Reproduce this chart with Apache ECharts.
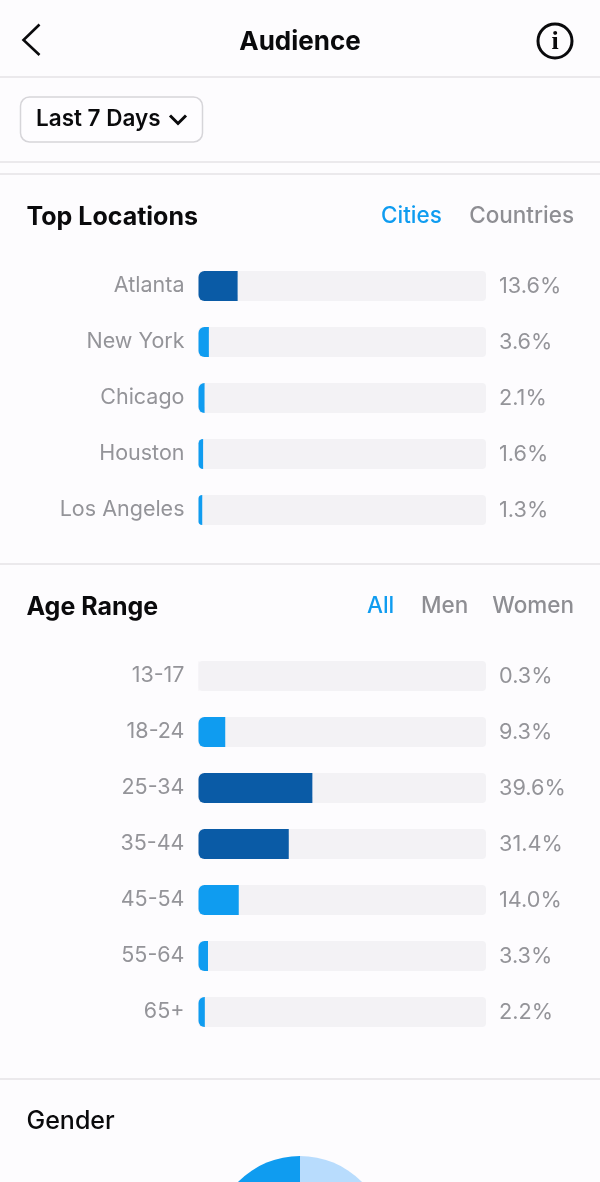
<!DOCTYPE html>
<html><head><meta charset="utf-8">
<script src="https://cdn.jsdelivr.net/npm/echarts@6/dist/echarts.min.js"></script>
<style>html,body{margin:0;padding:0;background:#fdfcfe}#c{width:600px;height:1182px}</style>
</head><body><div id="c"></div>
<script>
const cities = ['Atlanta','New York','Chicago','Houston','Los Angeles'];
const cityShare = [13.6,3.6,2.1,1.6,1.3];
const cityDark = [true,false,false,false,false];
const ages = ['13-17','18-24','25-34','35-44','45-54','55-64','65+'];
const ageShare = [0.3,9.3,39.6,31.4,14.0,3.3,2.2];
const ageDark = [false,false,true,true,false,false,false];
const genders = ['Men','Women'];
const genderShare = [50,50];

const DARK='#0a5ba6', LIGHT='#0f9cf0', TRACK='#f3f2f5', GRAY='#8e8e93', LBL='#949499', BLUE='#0f9cf0', INK='#0a0a0c', FF='Inter, sans-serif';
const pct = v => v.toFixed(1)+'%';
const barRows = (vals,dark) => vals.map((v,i)=>({value:v,itemStyle:{color:v<1?TRACK:(dark[i]?DARK:LIGHT)}}));
const yLeft = (g,data)=>({type:'category',gridIndex:g,data,inverse:true,axisLine:{show:false},axisTick:{show:false},
  axisLabel:{margin:14,fontSize:21.5,fontFamily:FF,color:LBL,interval:0,padding:[2,0,0,0]}});
const yRight = (g,vals)=>({type:'category',gridIndex:g,position:'right',data:vals.map(pct),inverse:true,axisLine:{show:false},axisTick:{show:false},
  axisLabel:{margin:13,fontSize:21.7,fontFamily:FF,color:LBL,interval:0,padding:[2,0,0,0]}});
const xAx = g=>({type:'value',gridIndex:g,min:0,max:100,show:false});
const bar = (g,vals,dark)=>({type:'bar',xAxisIndex:g,yAxisIndex:g*2,data:barRows(vals,dark),barWidth:30,silent:true,
  showBackground:true,backgroundStyle:{color:TRACK,borderRadius:4},itemStyle:{borderRadius:[6,0,0,6]}});
const txt=(x,y,t,size,color,weight,align,ff)=>({type:'text',x,y,silent:true,style:{text:t,fontSize:size,fontFamily:ff||FF,fontWeight:weight||400,fill:color,align:align||'left',verticalAlign:'middle'}});
const rule=(y)=>({type:'line',silent:true,shape:{x1:0,y1:y,x2:600,y2:y},style:{stroke:'#e4e3e6',lineWidth:1.5}});

const chart=echarts.init(document.getElementById('c'),null,{renderer:'canvas'});
chart.setOption({
  backgroundColor:'#fdfcfe',animation:false,
  grid:[{left:198.5,top:258,width:287.5,height:280},{left:198.5,top:648,width:287.5,height:392}],
  xAxis:[xAx(0),xAx(1)],
  yAxis:[yLeft(0,cities),yRight(0,cityShare),yLeft(1,ages),yRight(1,ageShare)],
  series:[bar(0,cityShare,cityDark),bar(1,ageShare,ageDark),
    {type:'pie',center:[300,1243],radius:87,startAngle:90,silent:true,label:{show:false},labelLine:{show:false},
     data:[{name:genders[1],value:genderShare[1],itemStyle:{color:'#b8dcfd'}},{name:genders[0],value:genderShare[0],itemStyle:{color:LIGHT}}]}],
  graphic:[
    rule(77),rule(162),rule(174),rule(564),rule(1079),
    {type:'polyline',silent:true,shape:{points:[[39.5,24.5],[23.5,40],[39.5,55]]},style:{stroke:INK,lineWidth:2.6,fill:null}},
    txt(300,42,'Audience',26,INK,700,'center'),
    {type:'circle',silent:true,shape:{cx:555,cy:41,r:17},style:{stroke:INK,lineWidth:3,fill:null}},
    txt(555,42,'i',26,INK,700,'center','Liberation Serif'),
    {type:'rect',silent:true,shape:{x:20.5,y:97,width:182,height:45,r:9},style:{stroke:'#d6d5d9',lineWidth:1.5,fill:'#fefdff'}},
    txt(36,119,'Last 7 Days',22.5,INK,600),
    {type:'polyline',silent:true,shape:{points:[[170,115.5],[178,123.5],[186,115.5]]},style:{stroke:INK,lineWidth:3,fill:null}},
    txt(26.5,217,'Top Locations',25,INK,700),
    txt(381,216,'Cities',22.5,BLUE,500),
    txt(574,216,'Countries',22.5,GRAY,500,'right'),
    txt(26.5,607,'Age Range',25,INK,700),
    txt(367,606,'All',22.5,BLUE,500),
    txt(421,606,'Men',22.5,GRAY,500),
    txt(574,606,'Women',22.5,GRAY,500,'right'),
    txt(26.5,1121.5,'Gender',25,INK,500)
  ]
});
</script></body></html>
